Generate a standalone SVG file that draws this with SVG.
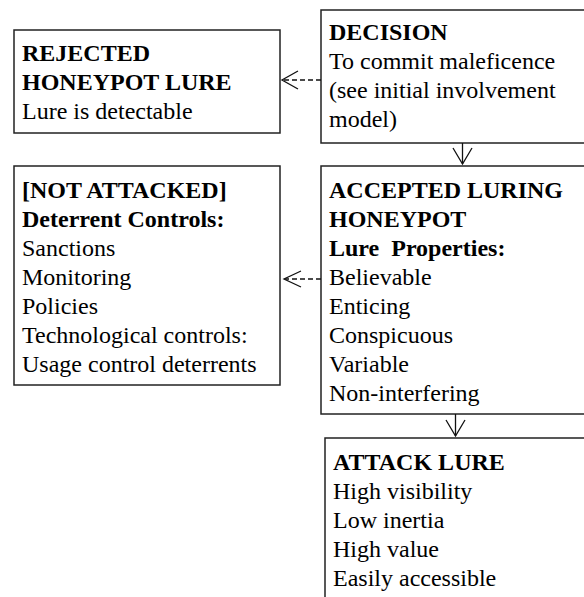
<svg xmlns="http://www.w3.org/2000/svg" width="584" height="597" viewBox="0 0 584 597">
<style>
.box{fill:#fff;stroke:#222;stroke-width:1.5}
text{font-family:"Liberation Serif","Times New Roman",serif;font-size:24px;fill:#000}
.b{font-weight:bold}
.con{stroke:#111;stroke-width:1.3;fill:none}
.dash{stroke-dasharray:5,3}
</style>
<rect width="584" height="597" fill="#fff"/>
<g id="rejected">
<rect class="box" x="14" y="30" width="266" height="103"/>
<text x="22" y="61" class="b">REJECTED</text>
<text x="22" y="90" class="b">HONEYPOT LURE</text>
<text x="22" y="119">Lure is detectable</text>
</g>
<g id="decision">
<rect class="box" x="321" y="10" width="300" height="133"/>
<text x="329" y="40" class="b">DECISION</text>
<text x="329" y="69">To commit maleficence</text>
<text x="329" y="98">(see initial involvement</text>
<text x="329" y="127">model)</text>
</g>
<g id="not-attacked">
<rect class="box" x="14" y="166" width="266" height="219"/>
<text x="22" y="198" class="b">[NOT ATTACKED]</text>
<text x="22" y="227" class="b">Deterrent Controls:</text>
<text x="22" y="256">Sanctions</text>
<text x="22" y="285">Monitoring</text>
<text x="22" y="314">Policies</text>
<text x="22" y="343">Technological controls:</text>
<text x="22" y="372">Usage control deterrents</text>
</g>
<g id="accepted">
<rect class="box" x="321" y="166" width="300" height="248"/>
<text x="329" y="198" class="b">ACCEPTED LURING</text>
<text x="329" y="227" class="b">HONEYPOT</text>
<text x="329" y="256" class="b" xml:space="preserve">Lure  Properties:</text>
<text x="329" y="285">Believable</text>
<text x="329" y="314">Enticing</text>
<text x="329" y="343">Conspicuous</text>
<text x="329" y="372">Variable</text>
<text x="329" y="401">Non-interfering</text>
</g>
<g id="attack">
<rect class="box" x="325" y="438" width="300" height="200"/>
<text x="333" y="470" class="b">ATTACK LURE</text>
<text x="333" y="499">High visibility</text>
<text x="333" y="528">Low inertia</text>
<text x="333" y="557">High value</text>
<text x="333" y="586">Easily accessible</text>
</g>
<g id="connectors">
<line class="con dash" x1="321" y1="80" x2="283" y2="80"/>
<polyline class="con" points="298,71 282,80 298,89"/>
<line class="con dash" x1="321" y1="279" x2="285" y2="279"/>
<polyline class="con" points="301,271 284,279 301,287"/>
<line class="con" x1="462.5" y1="143" x2="462.5" y2="164"/>
<polyline class="con" points="453,148 462.5,164 472,148"/>
<line class="con" x1="455.5" y1="414" x2="455.5" y2="436"/>
<polyline class="con" points="446,420 455.5,436 465,420"/>
</g>
</svg>
